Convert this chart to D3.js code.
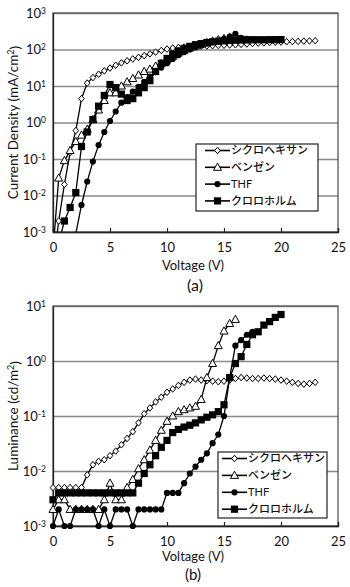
<!DOCTYPE html>
<html><head><meta charset="utf-8">
<script src="https://cdn.jsdelivr.net/npm/d3@7"></script>
<style>body{margin:0;background:#fff}svg{display:block}</style>
</head><body>
<svg id="c" width="350" height="587"></svg>
<script>
// ---------- DATA ----------
const seriesNames = ["シクロヘキサン", "ベンゼン", "THF", "クロロホルム"];
const xTicks = [0, 5, 10, 15, 20, 25];
const yExpTop = [-3, -2, -1, 0, 1, 2, 3];
const yExpBottom = [-3, -2, -1, 0, 1];

// (a) current density, mA/cm2
const vCycloJ = [0,0.5,1,1.5,2,2.5,3,3.5,4,4.5,5,5.5,6,6.5,7,7.5,8,8.5,9,9.5,10,10.5,11,11.5,12,12.5,13,13.5,14,14.5,15,15.5,16,16.5,17,17.5,18,18.5,19,19.5,20,20.5,21,21.5,22,22.5,23];
const cycloJ = [0.0001,0.002,0.02,0.15,0.6,4.5,12,17,21,26,31,37,43,49,55,61,68,76,85,94,103,110,114,117,119,121,123,125,127,129,131,133,135,138,142,146,149,152,155,158,160,163,165,167,170,172,174];
const vBenzJ = [0,0.5,1,1.5,2,2.5,3,3.5,4,4.5,5,5.5,6,6.5,7,7.5,8,8.5,9,9.5,10,10.5,11,11.5,12,12.5,13,13.5,14,14.5,15,15.5,16];
const benzJ = [0.0003,0.03,0.09,0.17,0.3,0.45,0.65,1.2,2.2,4,6.5,6.5,10,13,16,20,25,29,35,42,52,65,80,95,110,125,140,155,170,185,200,215,230];
const vThfJ = [2,2.5,3,3.5,4,4.5,5,5.5,6,6.5,7,7.5,8,8.5,9,9.5,10,10.5,11,11.5,12,12.5,13,13.5,14,14.5,15,15.5,16,16.5,17,17.5];
const thfJ = [0.0009,0.0055,0.024,0.085,0.24,0.55,1.1,2.0,3.5,5,7,9.5,13,18,24,32,42,55,70,85,100,115,130,145,160,175,195,225,270,210,195,190];
const vChloroJ = [0.5,1,1.5,2,2.5,3,3.5,4,4.5,5,5.5,6,6.5,7,7.5,8,8.5,9,9.5,10,10.5,11,11.5,12,12.5,13,13.5,14,14.5,15,15.5,16,16.5,17,17.5,18,18.5,19,19.5,20];
const chloroJ = [0.0005,0.002,0.0047,0.012,0.22,0.55,1.2,2.8,5.5,11,9,6,4,4.5,6.5,9,14,25,42,57,75,92,107,122,135,145,155,162,168,173,177,180,182,183,184,185,185,186,186,187];

// (b) luminance, cd/m2
const vCycloL = [0,0.5,1,1.5,2,2.5,3,3.5,4,4.5,5,5.5,6,6.5,7,7.5,8,8.5,9,9.5,10,10.5,11,11.5,12,12.5,13,13.5,14,14.5,15,15.5,16,16.5,17,17.5,18,18.5,19,19.5,20,20.5,21,21.5,22,22.5,23];
const cycloL = [0.005,0.005,0.005,0.005,0.005,0.005,0.0085,0.013,0.015,0.016,0.019,0.023,0.03,0.039,0.052,0.075,0.11,0.14,0.18,0.22,0.27,0.31,0.36,0.41,0.45,0.47,0.45,0.44,0.43,0.42,0.43,0.45,0.48,0.5,0.49,0.48,0.48,0.49,0.48,0.47,0.45,0.43,0.41,0.39,0.38,0.39,0.41];
const vBenzL = [0,0.5,1,1.5,2,2.5,3,3.5,4,4.5,5,5.5,6,6.5,7,7.5,8,8.5,9,9.5,10,10.5,11,11.5,12,12.5,13,13.5,14,14.5,15,15.5,16];
const benzL = [0.002,0.003,0.003,0.002,0.002,0.002,0.002,0.002,0.002,0.003,0.006,0.003,0.003,0.005,0.007,0.011,0.016,0.024,0.036,0.055,0.08,0.1,0.12,0.13,0.14,0.15,0.2,0.5,0.9,1.9,3.5,4.8,5.7];
const vThfL = [0,0.5,1,1.5,2,2.5,3,3.5,4,4.5,5,5.5,6,6.5,7,7.5,8,8.5,9,9.5,10,10.5,11,11.5,12,12.5,13,13.5,14,14.5,15,15.5,16,16.5,17,17.5];
const thfL = [0.001,0.002,0.001,0.001,0.002,0.002,0.002,0.002,0.001,0.002,0.001,0.002,0.002,0.002,0.001,0.002,0.002,0.002,0.002,0.002,0.004,0.004,0.004,0.006,0.009,0.012,0.016,0.021,0.032,0.046,0.1,0.5,1.9,2.4,3.0,3.4];
const vChloroL = [0,0.5,1,1.5,2,2.5,3,3.5,4,4.5,5,5.5,6,6.5,7,7.5,8,8.5,9,9.5,10,10.5,11,11.5,12,12.5,13,13.5,14,14.5,15,15.5,16,16.5,17,17.5,18,18.5,19,19.5,20];
const chloroL = [0.003,0.004,0.004,0.004,0.004,0.004,0.004,0.004,0.004,0.004,0.004,0.004,0.004,0.004,0.004,0.006,0.009,0.013,0.019,0.027,0.036,0.05,0.057,0.063,0.068,0.075,0.085,0.095,0.105,0.12,0.16,0.5,0.9,1.2,2.0,3.0,3.4,4.5,5.2,6.2,7.0];

// ---------- DRAWING ----------
const svg = d3.select("#c");
const FONT = "Lato, 'Open Sans', sans-serif";
const JFONT = "'Noto Sans CJK JP', sans-serif";
const markerKinds = ["diamond", "triangle", "circle", "square"];

function drawMarker(sel, kind) {
  if (kind === "diamond") sel.append("path").attr("d", "M0,-3.3L2.8,0L0,3.3L-2.8,0Z").attr("fill", "#fff").attr("stroke", "#000").attr("stroke-width", 1);
  else if (kind === "triangle") sel.append("path").attr("d", "M0,-4.2L4,3L-4,3Z").attr("fill", "#fff").attr("stroke", "#000").attr("stroke-width", 1);
  else if (kind === "circle") sel.append("circle").attr("r", 3.1).attr("fill", "#000");
  else sel.append("rect").attr("x", -3.6).attr("y", -3.6).attr("width", 7.2).attr("height", 7.2).attr("fill", "#000");
}

function drawChart(cfg) {
  const g = svg.append("g");
  const x = d3.scaleLinear().domain([0, 25]).range([cfg.left, cfg.right]);
  const y = d3.scaleLog().domain([1e-3, Math.pow(10, cfg.exps[cfg.exps.length - 1])]).range([cfg.bottom, cfg.top]);
  const W = cfg.right - cfg.left;
  const tickVals = cfg.exps.map(e => Math.pow(10, e));

  // gridlines
  const grid = g.append("g").attr("transform", `translate(${cfg.left},0)`)
    .call(d3.axisLeft(y).tickValues(tickVals).tickSize(-W).tickFormat(""));
  grid.select(".domain").remove();
  grid.selectAll("line").attr("stroke", "#8a8a8a").attr("stroke-width", 1.4);

  // frame
  g.append("rect").attr("x", cfg.left).attr("y", cfg.top).attr("width", W).attr("height", cfg.bottom - cfg.top)
    .attr("fill", "none").attr("stroke", "#555").attr("stroke-width", 1.3);

  // y axis labels
  const ya = g.append("g").attr("transform", `translate(${cfg.left},0)`)
    .call(d3.axisLeft(y).tickValues(tickVals).tickSize(0).tickPadding(7).tickFormat(""));
  ya.select(".domain").attr("stroke", "#222").attr("stroke-width", 1.3);
  ya.selectAll(".tick text").each(function(d, i) {
    const t = d3.select(this).attr("font-family", FONT).attr("font-size", 13).attr("fill", "#111").attr("dy", "0.32em");
    t.append("tspan").text("10");
    t.append("tspan").attr("dy", "-0.45em").attr("font-size", 8.5).text(String(cfg.exps[i]));
  });

  // x axis
  const xa = g.append("g").attr("transform", `translate(0,${cfg.bottom})`)
    .call(d3.axisBottom(x).tickValues(xTicks).tickSize(-4).tickPadding(11).tickFormat(d3.format("d")));
  xa.select(".domain").attr("stroke", "#222").attr("stroke-width", 1.3);
  xa.selectAll("line").attr("stroke", "#222").attr("stroke-width", 1.2);
  xa.selectAll("text").attr("font-family", FONT).attr("font-size", 13).attr("fill", "#111");

  // titles
  g.append("text").attr("x", 193).attr("y", cfg.bottom + cfg.xtDy).attr("text-anchor", "middle")
    .attr("font-family", FONT).attr("font-size", 13).attr("fill", "#111").text("Voltage (V)");
  const yt = g.append("text").attr("transform", `translate(18,${(cfg.top + cfg.bottom) / 2}) rotate(-90)`)
    .attr("text-anchor", "middle").attr("font-family", FONT).attr("font-size", 13.5).attr("fill", "#111");
  yt.append("tspan").text(cfg.ytitle[0]);
  yt.append("tspan").attr("dy", "-0.45em").attr("font-size", 9).text("2");
  yt.append("tspan").attr("dy", "0.45em").text(")");
  g.append("text").attr("x", cfg.capX).attr("y", cfg.bottom + cfg.capDy).attr("text-anchor", "middle")
    .attr("font-family", FONT).attr("font-size", cfg.capSize).attr("fill", "#111").text(cfg.caption);

  // clip
  const cid = "clip" + cfg.caption.replace(/\W/g, "");
  g.append("clipPath").attr("id", cid).append("rect")
    .attr("x", cfg.left).attr("y", cfg.top).attr("width", W).attr("height", cfg.bottom - cfg.top);

  const line = d3.line().x(d => x(d[0])).y(d => y(d[1]));
  cfg.series.forEach((s, k) => {
    const pts = s.v.map((v, i) => [v, s.y[i]]);
    g.append("path").datum(pts).attr("d", line).attr("fill", "none").attr("stroke", "#000")
      .attr("stroke-width", 1.3).attr("clip-path", `url(#${cid})`);
    const mg = g.append("g");
    pts.filter(p => p[1] >= 1e-3 * 0.999).forEach(p => {
      const m = mg.append("g").attr("transform", `translate(${x(p[0])},${y(p[1])})`);
      drawMarker(m, markerKinds[k]);
    });
  });

  // legend
  const L = cfg.legend;
  const lg = g.append("g");
  lg.append("rect").attr("x", L.x).attr("y", L.y).attr("width", L.w).attr("height", L.h)
    .attr("fill", "#fff").attr("stroke", "#222").attr("stroke-width", 1.2);
  seriesNames.forEach((n, k) => {
    const yy = L.y + L.row0 + k * L.dy;
    lg.append("line").attr("x1", L.x + L.lx0).attr("x2", L.x + L.lx1).attr("y1", yy).attr("y2", yy)
      .attr("stroke", "#000").attr("stroke-width", 1.6);
    const m = lg.append("g").attr("transform", `translate(${L.x + (L.lx0 + L.lx1) / 2},${yy})`);
    drawMarker(m, markerKinds[k]);
    lg.append("text").attr("x", L.x + L.lx1 + 1).attr("y", yy).attr("dy", "0.36em")
      .attr("font-family", n === "THF" ? FONT : JFONT).attr("font-size", 11)
      .attr("font-weight", n === "THF" ? 400 : 500)
      .attr("fill", "#111").text(n);
  });
}

drawChart({
  left: 53, right: 338, top: 13, bottom: 232, exps: yExpTop,
  ytitle: ["Current Density (mA/cm"], caption: "(a)", capX: 195, capDy: 59, capSize: 16, xtDy: 38,
  series: [
    {v: vCycloJ, y: cycloJ}, {v: vBenzJ, y: benzJ}, {v: vThfJ, y: thfJ}, {v: vChloroJ, y: chloroJ}
  ],
  legend: {x: 196, y: 144, w: 122, h: 67, row0: 6.5, dy: 16.8, lx0: 9, lx1: 34}
});
drawChart({
  left: 53, right: 338, top: 306, bottom: 526, exps: yExpBottom,
  ytitle: ["Luminance (cd/m"], caption: "(b)", capX: 193, capDy: 54, capSize: 15, xtDy: 35,
  series: [
    {v: vCycloL, y: cycloL}, {v: vBenzL, y: benzL}, {v: vThfL, y: thfL}, {v: vChloroL, y: chloroL}
  ],
  legend: {x: 218, y: 452, w: 109, h: 66, row0: 6.5, dy: 16.9, lx0: 4, lx1: 29}
});
</script>
</body></html>
